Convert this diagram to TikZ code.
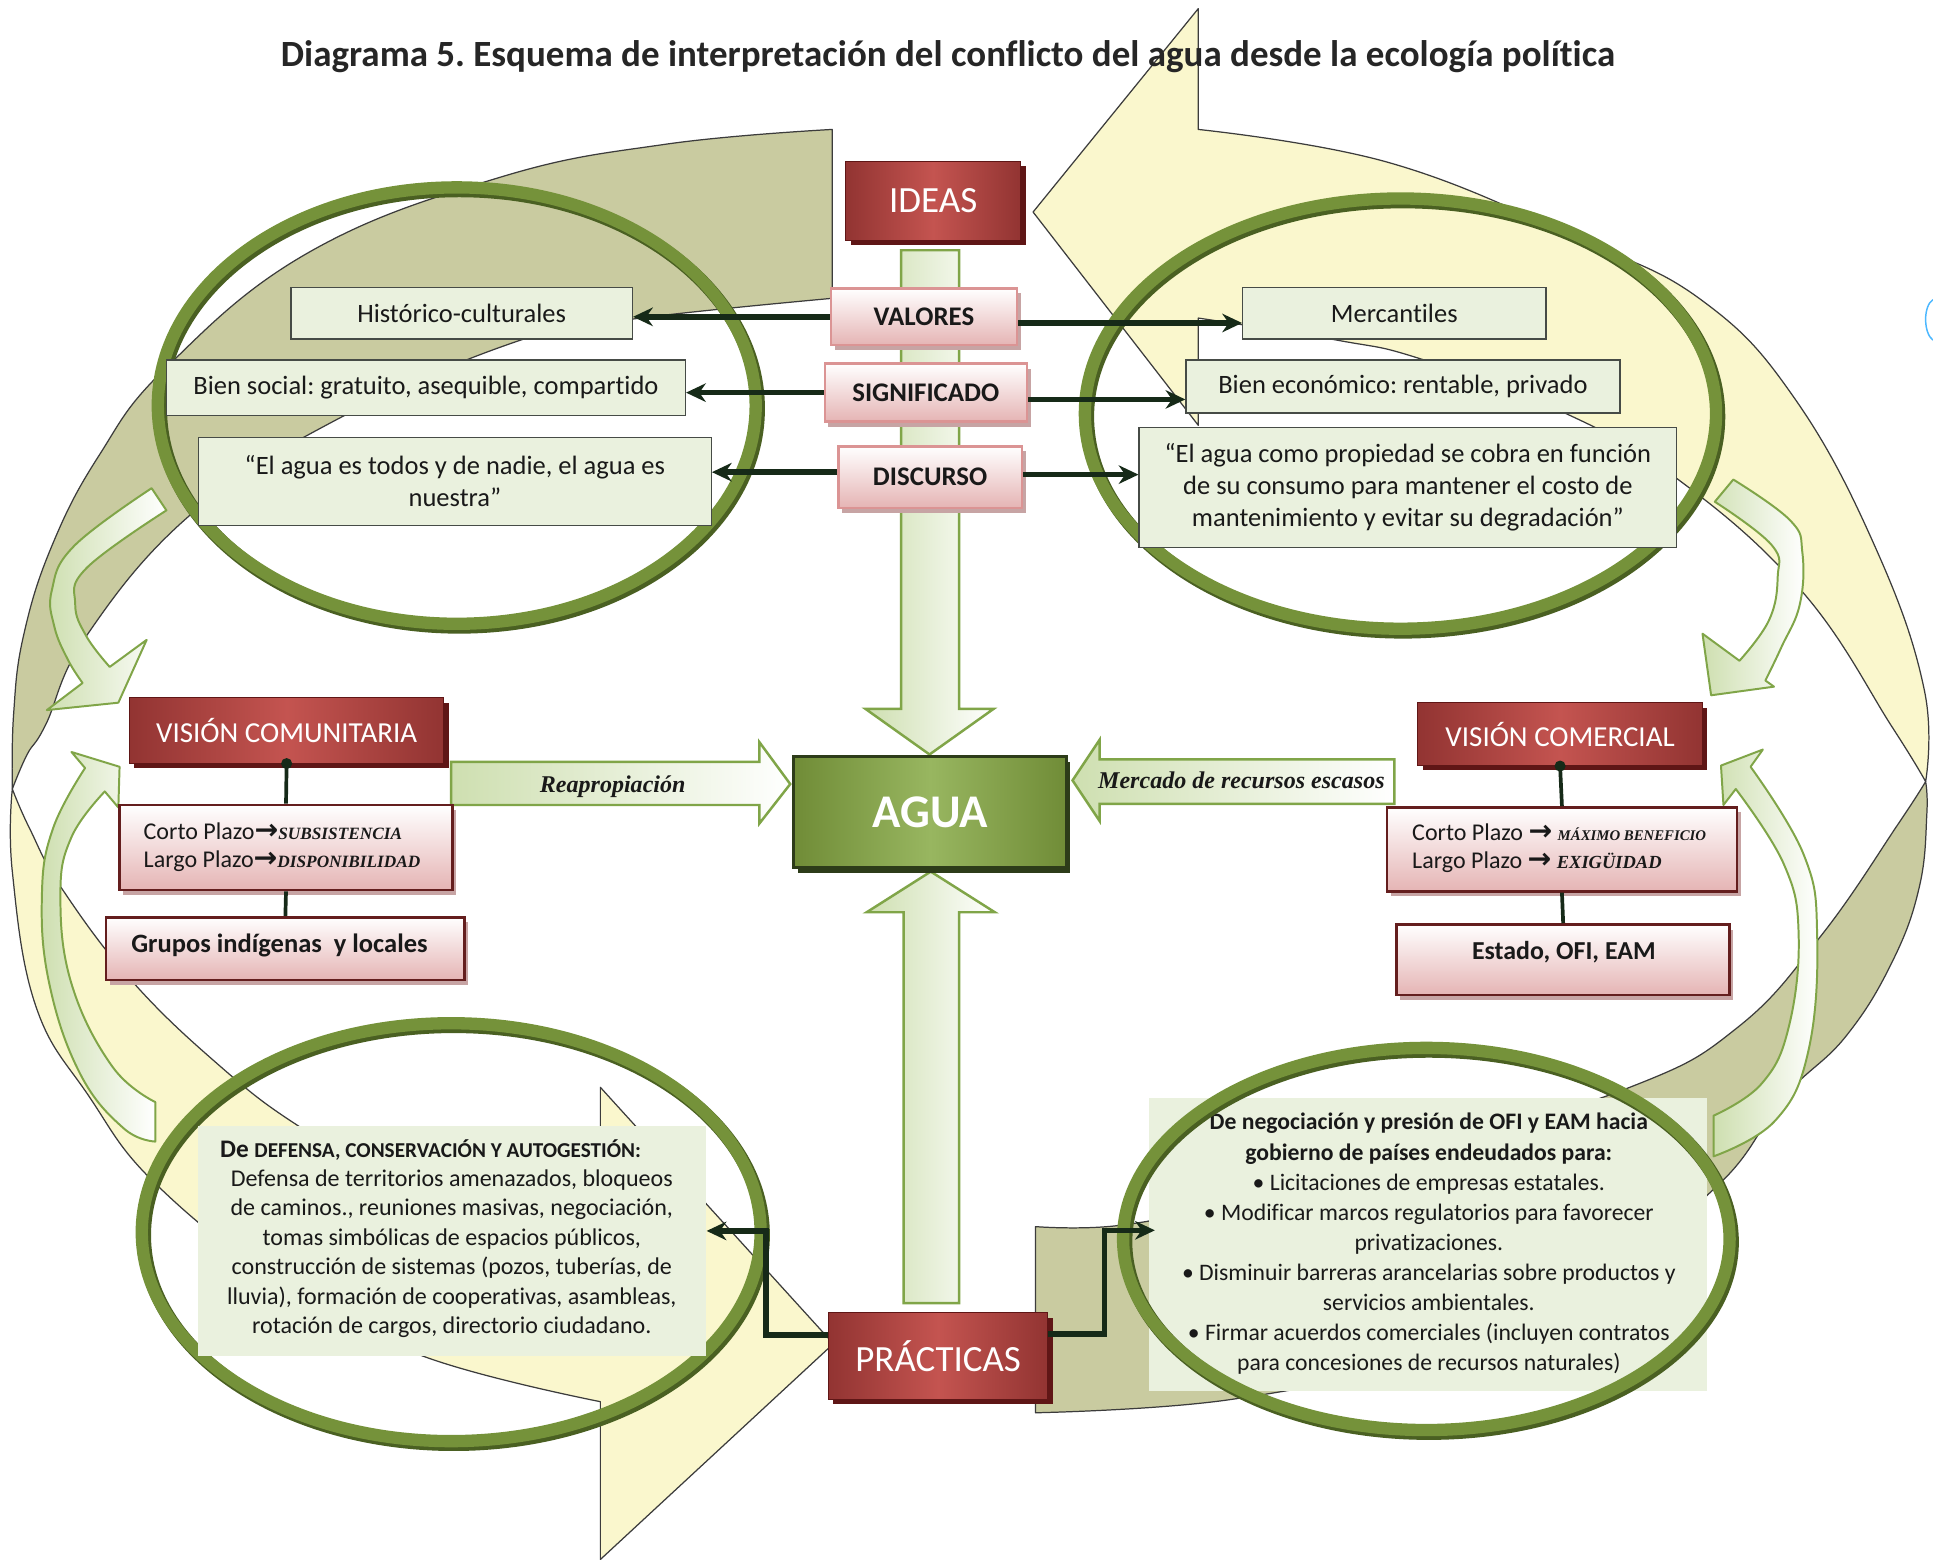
\documentclass[tikz,border=0pt]{standalone}
\usepackage{fontspec}
\setmainfont{Carlito}[Ligatures=NoCommon]
\newfontfamily\serifbi{Liberation Serif}
\newfontfamily\dejavu{DejaVu Sans}
\usetikzlibrary{arrows.meta,shadows,calc}
\frenchspacing

\definecolor{oliveband}{RGB}{201,203,160}
\definecolor{yelband}{RGB}{250,247,205}
\definecolor{bandline}{RGB}{60,60,60}
\definecolor{ringc}{RGB}{117,146,58}
\definecolor{ringd}{RGB}{74,96,34}
\definecolor{boxgreen}{RGB}{234,241,222}
\definecolor{boxline}{RGB}{70,75,70}
\definecolor{redD}{RGB}{146,52,50}
\definecolor{redL}{RGB}{196,84,80}
\definecolor{redS}{RGB}{95,22,22}
\definecolor{pinkB}{RGB}{229,180,180}
\definecolor{pinkLine}{RGB}{219,148,148}
\definecolor{darkLine}{RGB}{100,30,30}
\definecolor{connc}{RGB}{22,42,24}
\definecolor{arrFill}{RGB}{206,223,176}
\definecolor{arrLine}{RGB}{128,165,72}
\definecolor{aguaD}{RGB}{112,140,55}
\definecolor{aguaL}{RGB}{152,182,96}
\definecolor{aguaS}{RGB}{45,60,25}
\definecolor{txt}{RGB}{25,25,25}

\newcommand\myfs[2]{\fontsize{#1}{#2}\selectfont}
\newcommand\myarr{{\dejavu\bfseries\myfs{23}{23}→}}
\newcommand\sbi[1]{\serifbi\bfseries\itshape\myfs{#1}{23}}

\tikzset{
 bando/.style={fill=oliveband, draw=bandline, line width=1pt, line join=round},
 bandy/.style={fill=yelband, draw=bandline, line width=1pt, line join=round},
 smallarr/.style={left color=arrFill, right color=white, draw=arrLine, line width=1.6pt, line join=round},
 bigarr/.style={left color=arrFill, right color=white, draw=arrLine, line width=2pt, line join=miter},
 redbox/.style={rectangle, inner sep=0pt, left color=redD, right color=redD, middle color=redL, draw=redS, line width=0.8pt, text=white, drop shadow={shadow xshift=4pt, shadow yshift=-4pt, fill=redS, opacity=1}},
 pinkbox/.style={rectangle, inner sep=0pt, top color=white, bottom color=pinkB, draw=pinkLine, line width=2pt, text=txt, font=\bfseries\myfs{21.8}{24}, drop shadow={shadow xshift=3pt, shadow yshift=-4pt, fill=pinkB!70!gray, opacity=1}},
 pinkdark/.style={rectangle, inner sep=0pt, top color=white, bottom color=pinkB, draw=darkLine, line width=2.2pt, text=txt, drop shadow={shadow xshift=3pt, shadow yshift=-4pt, fill=pinkB!70!gray, opacity=1}},
 gbox/.style={rectangle, inner sep=0pt, fill=boxgreen, draw=boxline, line width=1pt, text=txt, font=\myfs{21.5}{26}, align=center},
 myconn/.style={draw=connc, line width=4.5pt, -{Stealth[length=16pt,width=15pt]}},
 stem/.style={draw=connc, line width=3pt},
 ringsh/.style={draw=ringd, line width=11pt},
 ringmain/.style={draw=ringc, line width=10pt},
}

\begin{document}
\begin{tikzpicture}[x=1pt,y=-1pt]
\useasboundingbox (0,0) rectangle (1568,1265);
\fill[white] (0,0) rectangle (1568,1265);

% ---- big circular band arrows ----
\path[bandy] (10,640) -- plot[smooth,tension=0.7] coordinates {(10,640) (10,707) (29,816) (72,889) (127,961) (230,1042) (343,1100) (487,1137)} -- (487,1265) -- (676,1090) -- (487,882) -- (487,1005) -- plot[smooth,tension=0.7] coordinates {(487,1005) (400,985) (300,945) (240,912) (181,867) (109,798) (51,722) (24,672) (10,640)} -- cycle;
\path[bando] (675,242) -- (675,105) -- plot[smooth,tension=0.7] coordinates {(675,105) (540,117) (405,144) (250,205) (135,298) (80,370) (42,443) (19,516) (11,580) (10,640)} -- plot[smooth,tension=0.7] coordinates {(10,640) (22,612) (37,588) (70,516) (154,418) (270,342) (419,277) (512,259) (675,242)} -- cycle;
\path[bandy] (972,105) -- (972,7) -- (838,172) -- (972,345) -- (972,258) -- plot[smooth,tension=0.7] coordinates {(972,258) (1085,276) (1152,291) (1265,333) (1360,388) (1462,480) (1535,590) (1562,634)} -- plot[smooth,tension=0.7] coordinates {(1562,634) (1561,560) (1523,448) (1457,325) (1381,244) (1279,193) (1127,132) (972,105)} -- cycle;
\path[bando] (840,995) -- (840,1146) -- plot[smooth,tension=0.7] coordinates {(840,1146) (1000,1135) (1150,1100) (1300,1030) (1395,960) (1447,890) (1497,841) (1535,780) (1557,719) (1563,660) (1562,634)} -- plot[smooth,tension=0.7] coordinates {(1562,634) (1540,668) (1478,758) (1410,833) (1322,882) (1150,935) (1000,975) (908,994) (840,995)} -- cycle;

% ---- small curved arrows ----
\path[smallarr] (135,414) -- (123,396) -- plot[smooth,tension=0.7] coordinates {(123,396) (60,443) (42,479) (44,508) (55,535) (67,554)} -- (38,576) -- (96,570) -- (119,519) -- (89,541) -- plot[smooth,tension=0.7] coordinates {(89,541) (70,516) (61,490) (70,461) (135,414)} -- cycle;
\path[smallarr] (1391,407) -- (1406,389) -- plot[smooth,tension=0.7] coordinates {(1406,389) (1452,422) (1462,448) (1460,490) (1445,525) (1432,552)} -- (1439,557) -- (1388,564) -- (1381,514) -- (1411,536) -- plot[smooth,tension=0.7] coordinates {(1411,536) (1435,503) (1442,468) (1437,442) (1391,407)} -- cycle;
\path[smallarr] (126,894) -- (126,926) -- plot[smooth,tension=0.7] coordinates {(126,926) (100,915) (65,871) (40,798) (34,726) (43,672) (69,623)} -- (58,610) -- (97,622) -- (96,655) -- (85,642) -- plot[smooth,tension=0.7] coordinates {(85,642) (58,679) (49,726) (58,798) (91,865) (126,894)} -- cycle;
\path[smallarr] (1390,905) -- (1390,938) -- plot[smooth,tension=0.7] coordinates {(1390,938) (1440,909) (1467,852) (1474,758) (1463,693) (1420,622)} -- (1430,608) -- (1396,621) -- (1398,653) -- (1408,640) -- plot[smooth,tension=0.7] coordinates {(1408,640) (1447,701) (1459,758) (1451,833) (1429,879) (1390,905)} -- cycle;

% ---- big straight arrows ----
\path[bigarr] (731,203) -- (778,203) -- (778,575) -- (806,575) -- (754,612) -- (702,575) -- (731,575) -- cycle;
\path[bigarr] (733,1057) -- (778,1057) -- (778,740) -- (807,740) -- (755,707) -- (703,740) -- (733,740) -- cycle;
\path[bigarr] (366,618) -- (616,618) -- (616,602) -- (641,636) -- (616,668) -- (616,653) -- (366,653) -- cycle;
\node[font=\serifbi\bfseries\itshape\myfs{19.5}{22}, text=txt] (reap) at (497,638) {Reapropiación};
\path[bigarr] (1131,616) -- (892,616) -- (892,600) -- (870,633) -- (892,666) -- (892,652) -- (1131,652) -- cycle;
\node[font=\serifbi\bfseries\itshape\myfs{19.5}{22}, text=txt] (merca) at (1007,633) {Mercado de recursos escasos};

% ---- rings (top, bottom-left) ----
\draw[ringsh] (372.5,331.5) ellipse [x radius=242.5pt, y radius=177pt];
\draw[ringmain] (370.5,329) ellipse [x radius=242.5pt, y radius=177pt];
\draw[ringsh] (1138,338) ellipse [x radius=256pt, y radius=174.5pt];
\draw[ringmain] (1136,335.5) ellipse [x radius=256pt, y radius=174.5pt];
\draw[ringsh] (368,1002) ellipse [x radius=251pt, y radius=169.5pt];
\draw[ringmain] (366,999.5) ellipse [x radius=251pt, y radius=169.5pt];

% ---- green text boxes ----
\node[gbox, minimum width=277pt, minimum height=42pt] (hist) at (374.5,254) {Histórico-culturales};
\node[gbox, minimum width=421pt, minimum height=45pt] (bsoc) at (345.5,314.5) {Bien social: gratuito, asequible, compartido};
\node[gbox, minimum width=416pt, minimum height=71pt] (dizq) at (369,390.5) {“El agua es todos y de nadie, el agua es\\nuestra”};
\node[gbox, minimum width=246pt, minimum height=42pt] (merc) at (1131,254) {Mercantiles};
\node[gbox, minimum width=352pt, minimum height=43pt] (beco) at (1138,313.5) {Bien económico: rentable, privado};
\node[gbox, minimum width=436pt, minimum height=97pt] (dder) at (1142,395.5) {“El agua como propiedad se cobra en función\\de su consumo para mantener el costo de\\mantenimiento y evitar su degradación”};

% bottom-left practice box
\node[rectangle, fill=boxgreen, minimum width=412pt, minimum height=187pt, inner sep=0pt] (bl) at (367,1006.5) {};
\node[anchor=west, font=\bfseries\myfs{20.5}{24}, text=txt] (blhead) at (175,933) {De {\myfs{17.2}{24}DEFENSA, CONSERVACIÓN Y AUTOGESTIÓN:}};
\node[align=center, font=\myfs{19.5}{24}, text=txt] (blbody) at (366.5,1017) {Defensa de territorios amenazados, bloqueos\\de caminos., reuniones masivas, negociación,\\tomas simbólicas de espacios públicos,\\construcción de sistemas (pozos, tuberías, de\\lluvia), formación de cooperativas, asambleas,\\rotación de cargos, directorio ciudadano.};

% bottom-right practice box and ring over it
\node[rectangle, fill=boxgreen, minimum width=453pt, minimum height=237pt, inner sep=0pt] (br) at (1158.5,1009.5) {};
\node[align=center, font=\myfs{19.2}{24.4}, text=txt] (brtxt) at (1159,1009) {{\bfseries De negociación y presión de OFI y EAM hacia}\\{\bfseries gobierno de países endeudados para:}\\• Licitaciones de empresas estatales.\\• Modificar marcos regulatorios para favorecer\\privatizaciones.\\• Disminuir barreras arancelarias sobre productos y\\servicios ambientales.\\• Firmar acuerdos comerciales (incluyen contratos\\para concesiones de recursos naturales)};
\draw[ringsh] (1159,1007.5) ellipse [x radius=246pt, y radius=155pt];
\draw[ringmain] (1157,1005) ellipse [x radius=246pt, y radius=155pt];

% ---- IDEAS and pink boxes ----
\node[redbox, minimum width=142pt, minimum height=64pt, font=\myfs{30}{32}] (ideas) at (757,163) {IDEAS};
\node[pinkbox, minimum width=151pt, minimum height=46pt] (val) at (749.5,257) {VALORES};
\node[pinkbox, minimum width=164pt, minimum height=47pt] (sig) at (751,318.5) {SIGNIFICADO};
\node[pinkbox, minimum width=149pt, minimum height=50pt] (disc) at (754.5,387) {DISCURSO};

\draw[myconn] (val.west) -- (val.west -| hist.east);
\draw[myconn] ([yshift=-5pt]val.east) -- ([yshift=-5pt]val.east -| merc.west);
\draw[myconn] (sig.west) -- (sig.west -| bsoc.east);
\draw[myconn] ([yshift=-5.5pt]sig.east) -- ([yshift=-5.5pt]sig.east -| beco.west);
\draw[myconn] ([yshift=4pt]disc.west) -- ([yshift=4pt]disc.west -| dizq.east);
\draw[myconn] ([yshift=2pt]disc.east) -- ([yshift=2pt]disc.east -| dder.west);

% ---- left vision ----
\node[redbox, minimum width=255pt, minimum height=53pt, font=\myfs{23.5}{26}] (vcom) at (232.5,592.5) {VISIÓN COMUNITARIA};
\node[pinkdark, minimum width=270pt, minimum height=69pt] (cpl) at (232,687.5) {};
\node[anchor=west, align=left, font=\myfs{19.5}{23}, text=txt] (cpltxt) at (113,687) {Corto Plazo\myarr{\sbi{14}SUBSISTENCIA}\\Largo Plazo\myarr{\sbi{14}DISPONIBILIDAD}};
\node[pinkdark, minimum width=291pt, minimum height=51pt] (grup) at (231.5,769.5) {};
\node[anchor=west, font=\bfseries\myfs{21.5}{24}, text=txt] (gruptxt) at (103,767) {Grupos indígenas\ \ y locales};
\draw[stem] (vcom.south) -- (cpl.north);
\fill[connc] (vcom.south) circle (4.5pt);
\draw[stem] (cpl.south) -- (grup.north);

% ---- right vision ----
\node[redbox, minimum width=231pt, minimum height=51pt, font=\myfs{23.5}{26}] (vcomer) at (1265.5,595.5) {VISIÓN COMERCIAL};
\node[pinkdark, minimum width=284pt, minimum height=68pt] (cpr) at (1267,689) {};
\node[anchor=west, align=left, font=\myfs{19.5}{23}, text=txt] (cprtxt) at (1142,688) {Corto Plazo \myarr\ {\sbi{12}MÁXIMO BENEFICIO}\\Largo Plazo \myarr\ {\sbi{15}EXIGÜIDAD}};
\node[pinkdark, minimum width=270pt, minimum height=57pt] (estado) at (1268,778.5) {};
\node[font=\bfseries\myfs{21}{24}, text=txt] (estadotxt) at (1268.5,772) {Estado, OFI, EAM};
\draw[stem] (vcomer.south) -- (cpr.north);
\fill[connc] (vcomer.south) circle (4.5pt);
\draw[stem] (cpr.south) -- (estado.north);

% ---- AGUA and PRACTICAS ----
\node[rectangle, inner sep=0pt, minimum width=221pt, minimum height=90pt, left color=aguaD, right color=aguaD, middle color=aguaL, draw=aguaS, line width=2.5pt, text=white, font=\bfseries\myfs{38}{40}, drop shadow={shadow xshift=3pt, shadow yshift=-4pt, fill=aguaS, opacity=1}] (agua) at (754.5,659) {AGUA};
\node[redbox, minimum width=178pt, minimum height=70pt, font=\myfs{30}{32}] (prac) at (761,1100) {PRÁCTICAS};

\draw[myconn] ([yshift=17pt]prac.west) -| ([xshift=48pt,yshift=8pt]bl.east) -- ([yshift=8pt]bl.east);
\draw[myconn] ([yshift=18pt]prac.east) -| ([xshift=-36pt,yshift=11.5pt]br.west) -- ([xshift=5pt,yshift=11.5pt]br.west);

% small blue mark at right edge
\draw[blue!40!cyan!70, line width=1.2pt] (1568,243) .. controls (1560,248) and (1560,270) .. (1568,276);

% ---- title ----
\node[font=\bfseries\myfs{30}{34}, text=black!85] (title) at (769,46) {Diagrama 5. Esquema de interpretación del conflicto del agua desde la ecología política};
\end{tikzpicture}
\end{document}
